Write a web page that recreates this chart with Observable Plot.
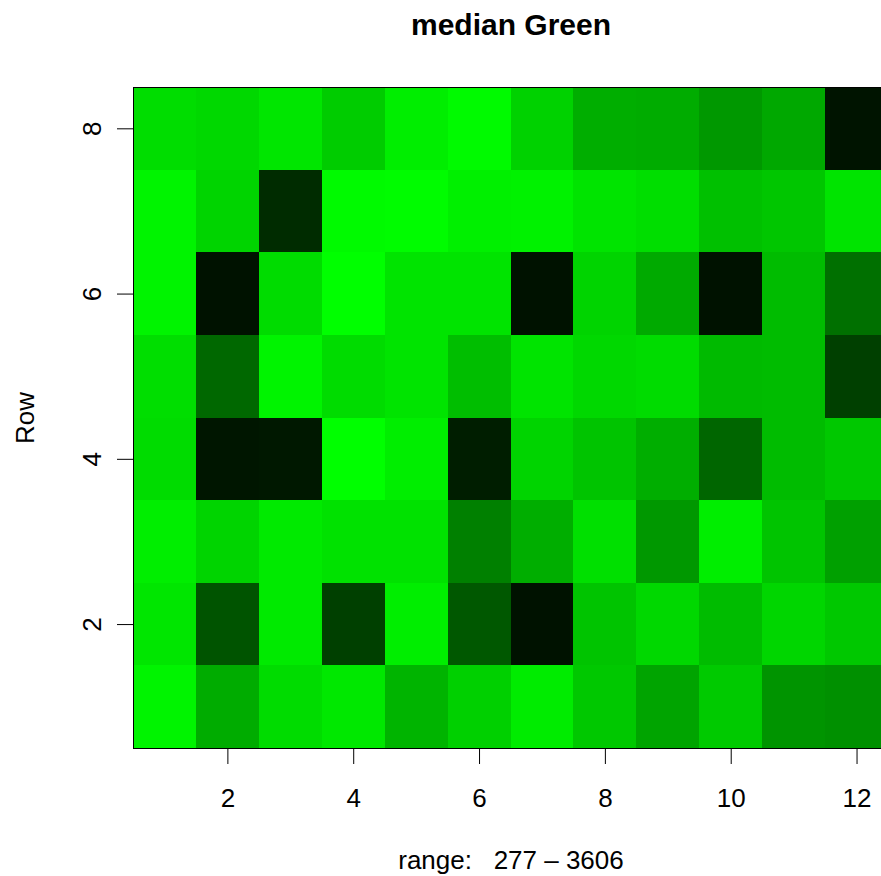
<!DOCTYPE html>
<html>
<head>
<meta charset="utf-8">
<script src="https://cdn.jsdelivr.net/npm/d3@7"></script>
<script src="https://cdn.jsdelivr.net/npm/@observablehq/plot@0.6"></script>
<style>
  html, body { margin: 0; padding: 0; background: #ffffff; overflow: hidden; }
  #chart { width: 881px; height: 876px; overflow: hidden; }
</style>
</head>
<body>
<div id="chart"></div>
<script>
// Column and row numbers of the grid
const columns = [1, 2, 3, 4, 5, 6, 7, 8, 9, 10, 11, 12];
const rowNumbers = [1, 2, 3, 4, 5, 6, 7, 8];

// Green intensity (0-255) of each cell, columns 1..12
const row1 = [244, 172, 220, 232, 180, 208, 236, 200, 164, 202, 148, 144];
const row2 = [230, 84, 234, 64, 238, 88, 18, 196, 216, 188, 214, 200];
const row3 = [238, 212, 234, 226, 226, 128, 174, 224, 152, 238, 196, 160];
const row4 = [220, 22, 24, 255, 238, 30, 212, 196, 174, 102, 188, 200];
const row5 = [222, 104, 244, 220, 228, 190, 228, 216, 220, 186, 188, 64];
const row6 = [244, 18, 220, 255, 228, 228, 18, 212, 170, 18, 188, 112];
const row7 = [244, 212, 44, 250, 252, 240, 242, 228, 222, 192, 198, 228];
const row8 = [221, 216, 230, 204, 238, 250, 210, 174, 172, 152, 168, 20];

// Tick labels and texts
const xTicks = [2, 4, 6, 8, 10, 12];
const yTicks = [2, 4, 6, 8];
const titleText = "median Green";
const xLabelText = "range:   277 \u2013 3606";
const yLabelText = "Row";

const gridRows = [row1, row2, row3, row4, row5, row6, row7, row8];
const cells = [];
rowNumbers.forEach((r, i) => {
  columns.forEach((c, j) => {
    cells.push({col: c, row: r, level: gridRows[i][j]});
  });
});

const fontFamily = "'Liberation Sans', Arial, Helvetica, sans-serif";

const chart = Plot.plot({
  width: 881,
  height: 876,
  marginLeft: 133,
  marginRight: -7,
  marginTop: 87,
  marginBottom: 128,
  style: {fontFamily: fontFamily, background: "white", overflow: "hidden", color: "black"},
  x: {domain: [0.5, 12.5]},
  y: {domain: [0.5, 8.5]},
  color: {type: "linear", domain: [0, 255], range: ["#000000", "#00ff00"], interpolate: "rgb"},
  marks: [
    Plot.rect(cells, {
      x1: d => d.col - 0.5,
      x2: d => d.col + 0.5,
      y1: d => d.row - 0.5,
      y2: d => d.row + 0.5,
      fill: "level",
      shapeRendering: "crispEdges"
    }),
    Plot.frame({stroke: "black", strokeWidth: 1}),
    Plot.axisX({ticks: xTicks, tickSize: 16, tickPadding: 24, fontSize: 26, label: null, tickFormat: d => String(d)}),
    Plot.axisY({ticks: yTicks, tickSize: 16, tickPadding: 17, tickRotate: -90, fontSize: 26, label: null, tickFormat: d => String(d)}),
    Plot.text([titleText], {frameAnchor: "top", dy: -53, lineAnchor: "bottom", fontSize: 30, fontWeight: "bold", fill: "black"}),
    Plot.text([xLabelText], {frameAnchor: "bottom", dy: 120, lineAnchor: "bottom", fontSize: 26, fill: "black"}),
    Plot.text([yLabelText], {frameAnchor: "left", dx: -100, rotate: -90, lineAnchor: "bottom", textAnchor: "middle", fontSize: 26, fill: "black"})
  ]
});

document.getElementById("chart").appendChild(chart);
</script>
</body>
</html>
